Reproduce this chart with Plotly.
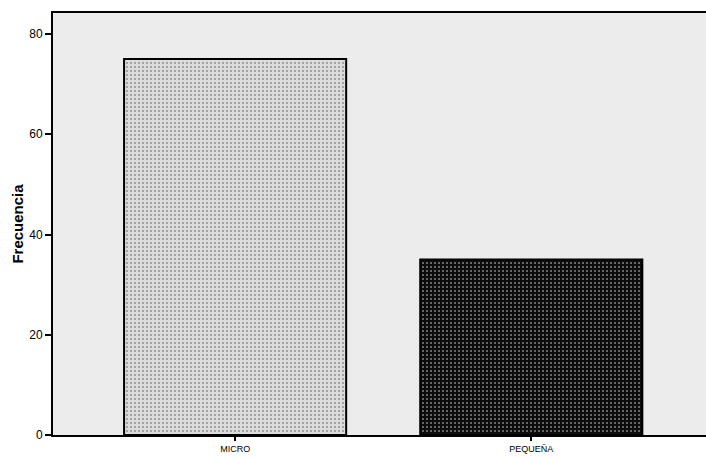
import plotly.graph_objects as go

categories = ["MICRO", "PEQUEÑA"]
frecuencia = [75, 35]
y_ticks = [0, 20, 40, 60, 80]

fig = go.Figure()
fig.add_trace(go.Bar(
    x=categories,
    y=frecuencia,
    width=0.75,
    marker=dict(
        color=["#dcdcdc", "#0c0c0c"],
        line=dict(color="#000000", width=2),
        pattern=dict(
            shape=[".", "."],
            fgcolor=["#8a8a8a", "#262626"],
            size=4,
            solidity=0.2,
            fillmode="overlay",
        ),
    ),
    showlegend=False,
))

fig.update_layout(
    width=706, height=458,
    margin=dict(l=53, r=0, t=13, b=23, autoexpand=False),
    paper_bgcolor="#ffffff",
    plot_bgcolor="#ececec",
    bargap=0.25,
    font=dict(family="Arial, Liberation Sans, sans-serif", color="#000000"),
)
fig.update_xaxes(
    range=[-0.615, 1.59],
    automargin=False,
    showline=True, linecolor="#000000", linewidth=2, mirror=True,
    ticks="outside", ticklen=4, tickwidth=1.5, tickcolor="#000000",
    tickfont=dict(size=9),
    showgrid=False, zeroline=False,
)
fig.update_yaxes(
    range=[0, 84.2],
    automargin=False,
    tickvals=y_ticks,
    showline=True, linecolor="#000000", linewidth=2,
    ticks="outside", ticklen=6, tickwidth=1.5, tickcolor="#000000",
    tickfont=dict(size=12),
    showgrid=False, zeroline=False,
    title=dict(text="<b>Frecuencia</b>", font=dict(size=15), standoff=2),
)

fig.write_html(
    "out.html",
    config={"displayModeBar": False},
    post_script="document.body.style.margin='0';document.body.style.padding='0';document.body.style.overflow='hidden';",
)
